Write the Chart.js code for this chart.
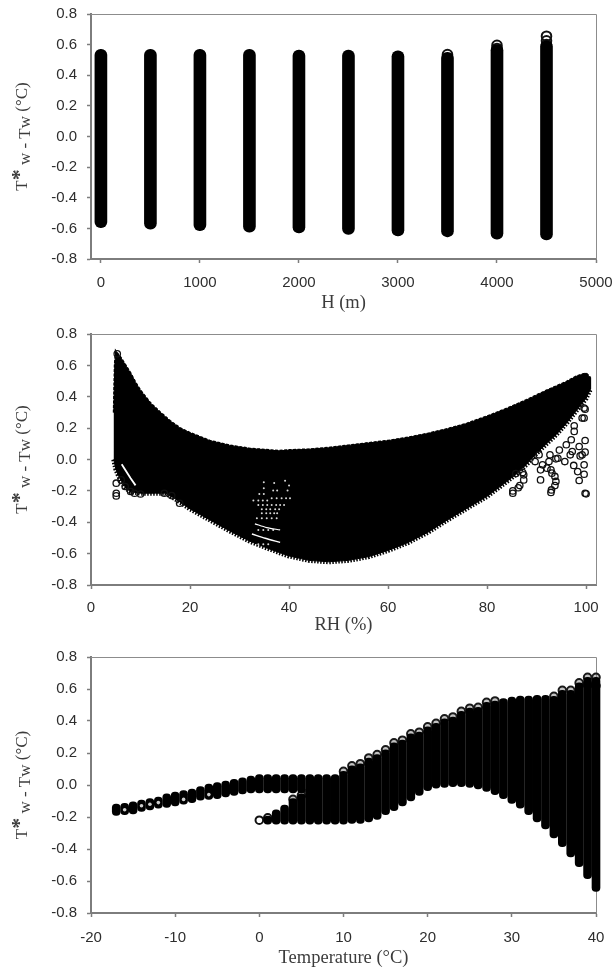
<!DOCTYPE html>
<html><head><meta charset="utf-8">
<script src="https://cdn.jsdelivr.net/npm/chart.js@4"></script>
<style>
html,body{margin:0;padding:0;background:#fff;width:613px;height:969px;overflow:hidden}
canvas{position:absolute;left:0;filter:blur(0.45px)}
</style></head><body>
<canvas id="c1" width="613" height="320" style="top:0;width:613px;height:320px"></canvas>
<canvas id="c2" width="613" height="320" style="top:320px;width:613px;height:320px"></canvas>
<canvas id="c3" width="613" height="329" style="top:640px;width:613px;height:329px"></canvas>
<script>
// ---- shared axis labels
const yTicks = [-0.8,-0.6,-0.4,-0.2,0,0.2,0.4,0.6,0.8];
const yTitleParts = ["T","*"," w - T","w"," (°C)"];

// ---- panel 1: difference against altitude
const heights = [0,500,1000,1500,2000,2500,3000,3500,4000,4500];
const heightTop = [0.57,0.57,0.57,0.57,0.565,0.565,0.56,0.55,0.6,0.625];
const heightLow = [-0.595,-0.605,-0.615,-0.625,-0.63,-0.64,-0.65,-0.655,-0.67,-0.675];
const heightRingH = [3500,4000,4000,4500,4500,4500];
const heightRingV = [0.535,0.595,0.575,0.655,0.625,0.6];
const heightTicks = [0,1000,2000,3000,4000,5000];

// ---- panel 2: difference against relative humidity
const upperRH = [4.6,4.8,5,6,7,8,9,10,12,14,16,18,20,22,24,26,28,30,32,34,36,38,40,44,48,52,56,60,64,68,72,76,80,84,88,92,96,98,100,100.9];
const upperT = [0.3,0.6,0.69,0.65,0.6,0.55,0.49,0.44,0.36,0.30,0.245,0.2,0.17,0.145,0.12,0.105,0.09,0.08,0.07,0.065,0.06,0.055,0.06,0.065,0.075,0.09,0.105,0.12,0.14,0.165,0.195,0.23,0.275,0.325,0.38,0.44,0.495,0.53,0.55,0.52];
const lowerRH = [4.6,5,5.5,6,7,8,10,13,15,17,20,24,28,32,36,40,44,48,52,56,60,64,68,72,76,80,84,86,88,90,92,94,96,98,100,100.9];
const lowerT = [0,-0.06,-0.1,-0.13,-0.18,-0.205,-0.215,-0.215,-0.215,-0.25,-0.315,-0.385,-0.455,-0.52,-0.57,-0.615,-0.643,-0.652,-0.643,-0.62,-0.58,-0.53,-0.465,-0.385,-0.31,-0.235,-0.14,-0.09,-0.03,0.04,0.1,0.16,0.23,0.31,0.39,0.45];
const ringRH = [85.2,85.2,86.3,86.6,87.4,87.4,87.2,85.8,89.7,90.5,90.8,90.8,91.2,92.1,92.5,92.7,92.9,93.1,93.7,93.9,93.7,93,92.9,94.6,94.3,93.9,95.7,96,96.8,97,97.2,97.5,98.3,97.6,97.6,98.6,98.6,98.8,99.2,99.2,99.6,99.8,99.6,99.8,99.8,99.6,99.6,99.8,100,5.3,5.1,5.1,5.1,8.8,10,8,6.9,6.1,14.8,16.3,17.9];
const ringT = [-0.215,-0.2,-0.18,-0.166,-0.13,-0.098,-0.083,-0.09,-0.013,0.03,-0.13,-0.066,-0.034,-0.055,-0.013,0.03,-0.066,-0.087,-0.108,-0.14,-0.166,-0.194,-0.21,0.06,0.008,0.004,-0.013,0.094,0.03,0.126,0.051,-0.038,-0.077,0.179,0.215,-0.134,0.083,0.023,0.03,0.264,0.328,0.321,0.264,0.121,0.047,-0.034,-0.094,-0.215,-0.219,0.674,-0.151,-0.215,-0.232,-0.215,-0.22,-0.204,-0.172,-0.13,-0.215,-0.23,-0.279];
const holeRH = [34.9,37,39.2,40,34.9,36.8,37.6,39.7,34,34.9,36.5,37.5,38.5,39.4,40.2,32.8,33.8,34.7,35.6,33.8,34.7,35.6,36.5,37.4,38.2,39,34.5,35.4,36.2,37.2,38,34.5,35.4,36.2,37,37.6,33.5,34.5,35.5,36.5,37.5,33.8,34.8,35.8,36.8,33.8,34.8,35.8];
const holeT = [-0.145,-0.15,-0.135,-0.166,-0.183,-0.198,-0.198,-0.198,-0.22,-0.22,-0.247,-0.247,-0.247,-0.247,-0.247,-0.262,-0.262,-0.262,-0.262,-0.29,-0.29,-0.29,-0.29,-0.29,-0.29,-0.29,-0.317,-0.317,-0.317,-0.317,-0.317,-0.343,-0.343,-0.343,-0.343,-0.343,-0.375,-0.375,-0.375,-0.375,-0.375,-0.449,-0.449,-0.449,-0.449,-0.54,-0.54,-0.54];
const stripeARH = [33.1,35.5,38.2];
const stripeAT = [-0.41,-0.434,-0.449];
const stripeBRH = [32.5,35.2,38.2];
const stripeBT = [-0.475,-0.502,-0.528];
const slashRH = [6.2,7,8,9];
const slashT = [-0.03,-0.07,-0.12,-0.165];
const humidityTicks = [0,20,40,60,80,100];

// ---- panel 3: difference against temperature
const temps = [-17,-16,-15,-14,-13,-12,-11,-10,-9,-8,-7,-6,-5,-4,-3,-2,-1,0,1,2,3,4,5,6,7,8,9,10,11,12,13,14,15,16,17,18,19,20,21,22,23,24,25,26,27,28,29,30,31,32,33,34,35,36,37,38,39,40];
const tempTop = [-0.12,-0.115,-0.105,-0.095,-0.085,-0.075,-0.055,-0.045,-0.035,-0.025,-0.01,0.005,0.015,0.025,0.035,0.045,0.055,0.065,0.065,0.065,0.065,0.065,0.065,0.065,0.065,0.065,0.065,0.085,0.12,0.133,0.169,0.19,0.22,0.263,0.28,0.32,0.33,0.363,0.385,0.413,0.425,0.46,0.48,0.485,0.517,0.525,0.54,0.55,0.555,0.555,0.56,0.56,0.554,0.592,0.592,0.638,0.673,0.673];
const tempLow = [-0.19,-0.185,-0.18,-0.165,-0.155,-0.145,-0.14,-0.13,-0.12,-0.11,-0.095,-0.09,-0.085,-0.075,-0.065,-0.055,-0.05,-0.05,-0.05,-0.05,-0.05,-0.05,-0.05,-0.05,-0.245,-0.245,-0.245,-0.245,-0.24,-0.24,-0.23,-0.215,-0.185,-0.16,-0.13,-0.1,-0.065,-0.035,-0.02,-0.015,-0.01,-0.01,-0.015,-0.025,-0.04,-0.06,-0.085,-0.115,-0.145,-0.185,-0.23,-0.275,-0.33,-0.385,-0.45,-0.51,-0.585,-0.665];
const branchT = [1,2,3,4,5,6];
const branchTop = [-0.195,-0.155,-0.125,-0.085,-0.055,-0.025];
const branchLow = [-0.245,-0.245,-0.245,-0.245,-0.245,-0.245];
const openT = [0,1];
const openV = [-0.22,-0.205];
const tipT = [4,5,6,10,11,12,13,14,15,16,17,18,19,20,21,22,23,24,25,26,27,28,35,36,37,38,39,39,40,40];
const tipV = [-0.09,-0.065,-0.04,0.085,0.12,0.133,0.169,0.19,0.22,0.263,0.28,0.32,0.33,0.363,0.385,0.413,0.425,0.46,0.48,0.485,0.517,0.525,0.554,0.592,0.592,0.638,0.673,0.625,0.673,0.62];
const dotT = [-16,-14,-13,-12,-9,-6];
const dotV = [-0.155,-0.13,-0.12,-0.11,-0.09,-0.06];
const tempTicks = [-20,-10,0,10,20,30,40];

const pairs = (xs, ys) => xs.map((x, i) => ({x, y: ys[i]}));
const spans = (xs, lows, tops) => xs.map((x, i) => ({x, y: [lows[i], tops[i]]}));
const AXIS = '#7d7d7d', TICK = '#2e2e2e', TITLE = '#3c3c3c';
const SERIF = '"Liberation Serif", serif';

const frame = {
  id: 'frame',
  beforeInit(chart) { chart.ctx.letterSpacing = '0.7px'; },
  beforeDatasetsDraw(chart) {
    const {ctx, chartArea: a} = chart;
    ctx.save();
    ctx.strokeStyle = '#8c8c8c';
    ctx.lineWidth = 1;
    ctx.beginPath();
    ctx.moveTo(a.left, a.top + 0.5);
    ctx.lineTo(a.right + 0.5, a.top + 0.5);
    ctx.lineTo(a.right + 0.5, a.bottom);
    ctx.stroke();
    ctx.restore();
  }
};
const yTitle = {
  id: 'yTitle',
  afterDraw(chart) {
    const {ctx, chartArea: a} = chart;
    const base = '17px ' + SERIF;
    const styles = [
      {font: base, dy: 0},
      {font: 'bold 22px ' + SERIF, dy: -1},
      {font: base, dy: 3},
      {font: base, dy: 3},
      {font: base, dy: 0}
    ];
    ctx.save();
    const widths = yTitleParts.map((t, i) => { ctx.font = styles[i].font; return ctx.measureText(t).width; });
    const total = widths.reduce((s, w) => s + w, 0);
    ctx.translate(27, (a.top + a.bottom) / 2);
    ctx.rotate(-Math.PI / 2);
    ctx.fillStyle = TITLE;
    ctx.textBaseline = 'alphabetic';
    let pos = -total / 2;
    yTitleParts.forEach((t, i) => {
      ctx.font = styles[i].font;
      ctx.fillText(t, pos, styles[i].dy);
      pos += widths[i];
    });
    ctx.restore();
  }
};

function panel(id, type, datasets, o) {
  new Chart(document.getElementById(id), {
    type,
    data: {datasets},
    plugins: [frame, yTitle],
    options: {
      responsive: false,
      animation: false,
      events: [],
      layout: {padding: {top: o.top, right: 613 - 596, left: 0, bottom: 0}},
      plugins: {legend: {display: false}, tooltip: {enabled: false}},
      scales: {
        x: {
          type: 'linear', offset: false, min: o.xMin, max: o.xMax,
          afterBuildTicks: s => { s.ticks = o.xTicks.map(value => ({value})); },
          afterFit: s => { s.height = o.below; s.paddingLeft = 0; s.paddingRight = 0; },
          border: {display: true, color: AXIS, width: 2},
          grid: {drawOnChartArea: false, offset: false, drawTicks: true, tickLength: 4, color: AXIS, tickWidth: 1.5},
          ticks: {color: TICK, font: {family: '"Liberation Sans"', size: 15}, padding: o.tickPad, autoSkip: false, maxRotation: 0, callback: v => String(v)},
          title: {display: true, text: o.xLabel, color: TITLE, font: {family: SERIF, size: 18.5}, padding: {top: 0, bottom: o.titlePad}}
        },
        y: {
          type: 'linear', min: -0.8, max: 0.8,
          afterBuildTicks: s => { s.ticks = yTicks.map(value => ({value})); },
          afterFit: s => { s.width = 91; s.paddingTop = 0; s.paddingBottom = 0; },
          border: {display: true, color: AXIS, width: 2},
          grid: {drawOnChartArea: false, drawTicks: true, tickLength: 4, color: AXIS, tickWidth: 1.5},
          ticks: {color: TICK, font: {family: '"Liberation Sans"', size: 15}, padding: 10, autoSkip: false, callback: v => v.toFixed(1)}
        }
      }
    }
  });
}

panel('c1', 'bar', [
  {type: 'bar', data: spans(heights, heightLow, heightTop), backgroundColor: '#000', barThickness: 12, grouped: false, borderRadius: 6, borderSkipped: false, clip: false, order: 1},
  {type: 'scatter', data: pairs(heightRingH, heightRingV), pointRadius: 4.8, pointBorderWidth: 2, pointBackgroundColor: 'rgba(0,0,0,0)', pointBorderColor: '#111', clip: false, order: 2}
], {top: 14, below: 61, xMin: -100, xMax: 5000, xTicks: heightTicks, xLabel: 'H (m)', tickPad: 11, titlePad: 6});

panel('c2', 'scatter', [
  {data: pairs(slashRH, slashT), showLine: true, borderColor: '#fff', borderWidth: 1.8, pointRadius: 0, order: 0},
  {data: pairs(stripeARH, stripeAT), showLine: true, tension: 0.3, borderColor: '#fff', borderWidth: 1.2, pointRadius: 0, order: 0},
  {data: pairs(stripeBRH, stripeBT), showLine: true, tension: 0.3, borderColor: '#fff', borderWidth: 1.4, pointRadius: 0, order: 0},
  {data: pairs(holeRH, holeT), pointRadius: 1, pointBorderWidth: 0, pointBackgroundColor: '#d8d8d8', order: 0},
  {data: pairs(ringRH, ringT), pointRadius: 3.2, pointBorderWidth: 1.3, pointBackgroundColor: 'rgba(0,0,0,0)', pointBorderColor: '#111', clip: false, order: 1},
  {data: pairs(lowerRH, lowerT), showLine: true, borderColor: '#000', borderWidth: 5, borderDash: [1.5, 1.5], pointRadius: 0, clip: false, order: 2},
  {data: pairs(upperRH, upperT), showLine: true, borderColor: '#000', borderWidth: 2, borderDash: [3, 1.5], pointRadius: 0, clip: false, order: 2},
  {data: pairs(upperRH.concat(lowerRH.slice().reverse()), upperT.concat(lowerT.slice().reverse())), showLine: true, fill: 'shape', backgroundColor: '#000', borderColor: '#000', borderWidth: 1, pointRadius: 0, clip: false, order: 3}
], {top: 14, below: 55, xMin: 0, xMax: 102, xTicks: humidityTicks, xLabel: 'RH (%)', tickPad: 10, titlePad: 4});

panel('c3', 'bar', [
  {type: 'scatter', data: pairs(dotT, dotV), pointRadius: 1.8, pointBorderWidth: 0, pointBackgroundColor: '#cfcfcf', clip: false, order: 0},
  {type: 'bar', data: spans(temps, tempLow, tempTop), backgroundColor: '#000', barThickness: 8, grouped: false, borderRadius: 4, borderSkipped: false, clip: false, order: 1},
  {type: 'bar', data: spans(branchT, branchLow, branchTop), backgroundColor: '#000', barThickness: 8, grouped: false, borderRadius: 4, borderSkipped: false, clip: false, order: 1},
  {type: 'scatter', data: pairs(openT, openV), pointRadius: 3.8, pointBorderWidth: 2, pointBackgroundColor: 'rgba(0,0,0,0)', pointBorderColor: '#111', clip: false, order: 2},
  {type: 'scatter', data: pairs(tipT, tipV), pointRadius: 3.8, pointBorderWidth: 2, pointBackgroundColor: 'rgba(120,120,120,0.45)', pointBorderColor: '#1a1a1a', clip: false, order: 2}
], {top: 17, below: 56, xMin: -20, xMax: 40, xTicks: tempTicks, xLabel: 'Temperature (°C)', tickPad: 12, titlePad: 0});
</script>
</body></html>
